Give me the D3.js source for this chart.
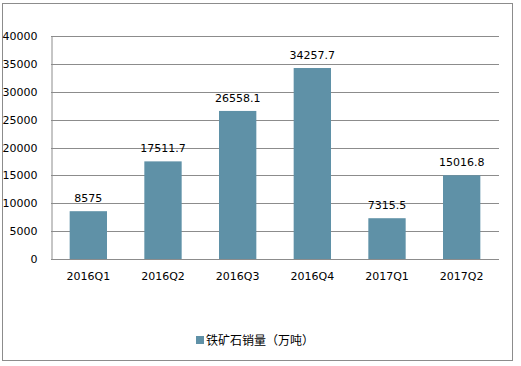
<!DOCTYPE html>
<html><head><meta charset="utf-8">
<script src="https://cdn.jsdelivr.net/npm/d3@7"></script>
<style>body{margin:0;background:#fff}svg{display:block}</style>
</head><body>
<script>
const categories = ["2016Q1","2016Q2","2016Q3","2016Q4","2017Q1","2017Q2"];
const values = [8575, 17511.7, 26558.1, 34257.7, 7315.5, 15016.8];
const valueLabels = ["8575","17511.7","26558.1","34257.7","7315.5","15016.8"];
const yTicks = [0,5000,10000,15000,20000,25000,30000,35000,40000];
const seriesName = "铁矿石销量（万吨）";

const W=521,H=366;
const svg=d3.select("body").append("svg").attr("width",W).attr("height",H);
const font="'DejaVu Sans', Verdana, sans-serif";
svg.append("rect").attr("x",2.5).attr("y",3.5).attr("width",510).attr("height",357)
  .attr("fill","#fff").attr("stroke","#8c8c8c").attr("stroke-width",1);

const x=d3.scaleBand().domain(categories).range([51,499]).paddingInner(0.5).paddingOuter(0.25);
const y=d3.scaleLinear().domain([0,40000]).range([259,36]);

const grid=svg.append("g");
grid.selectAll("line").data(yTicks).join("line")
  .attr("x1",51).attr("x2",499)
  .attr("y1",d=>Math.round(y(d))+0.5).attr("y2",d=>Math.round(y(d))+0.5)
  .attr("stroke","#8c8c8c").attr("stroke-width",1);

const yAxis=svg.append("g").attr("transform","translate(51.5,0)")
  .call(d3.axisLeft(y).tickValues(yTicks).tickSize(0).tickPadding(14).tickFormat(d3.format("d")));
yAxis.select(".domain").attr("stroke","#8c8c8c");
yAxis.selectAll("text").attr("font-family",font).attr("font-size","11px").attr("fill","#000");

svg.append("g").selectAll("rect").data(values).join("rect")
  .attr("x",(d,i)=>x(categories[i])).attr("width",x.bandwidth())
  .attr("y",d=>y(d)).attr("height",d=>y(0)-y(d))
  .attr("fill","#5f91a7");

svg.append("g").selectAll("text").data(values).join("text")
  .attr("x",(d,i)=>x(categories[i])+x.bandwidth()/2)
  .attr("y",d=>y(d)-9)
  .attr("text-anchor","middle").attr("font-family",font).attr("font-size","11px").attr("fill","#000")
  .text((d,i)=>valueLabels[i]);

const xAxis=svg.append("g").attr("transform","translate(0,259)")
  .call(d3.axisBottom(x).tickSize(0).tickPadding(13));
xAxis.select(".domain").remove();
xAxis.selectAll("text").attr("font-family",font).attr("font-size","11px").attr("fill","#000");

const lg=svg.append("g");
lg.append("rect").attr("x",196).attr("y",336).attr("width",8).attr("height",8).attr("fill","#5f91a7");
lg.append("text").attr("x",206).attr("y",344.5).attr("font-family","'Noto Sans CJK SC', sans-serif")
  .attr("font-size","12px").attr("fill","#000").text(seriesName);
</script>
</body></html>
